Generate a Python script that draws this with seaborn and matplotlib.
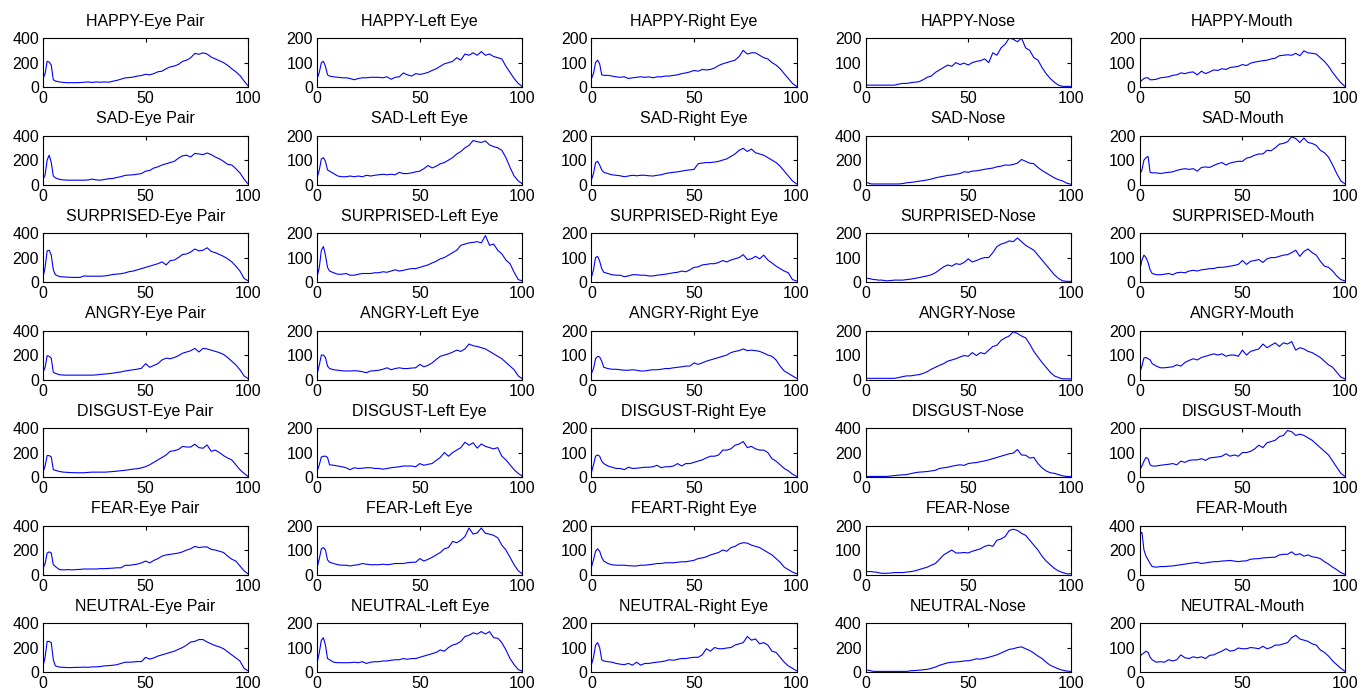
import matplotlib
matplotlib.use("Agg")
import matplotlib.pyplot as plt
import seaborn as sns

# histogram bins (normalised intensity 0-100)
bins = [0, 1, 2, 3, 4, 5, 6,
        8, 10, 12, 14, 16, 18, 20,
        22, 24, 26, 28, 30, 32, 34, 36, 38, 40,
        42, 44, 46, 48, 50, 52, 54, 56, 58, 60,
        62, 64, 66, 68, 70, 72, 74, 76, 78, 80,
        82, 84, 86, 88, 90, 92, 94, 96, 98, 100]

emotions = ["HAPPY", "SAD", "SURPRISED", "ANGRY", "DISGUST", "FEAR", "NEUTRAL"]
regions = ["Eye Pair", "Left Eye", "Right Eye", "Nose", "Mouth"]
title_fix = {("FEAR", "Right Eye"): "FEART-Right Eye"}  # as printed in the original

# --- HAPPY ---
happy_eye_pair = [70, 110, 210, 205, 180, 60, 50,
                  42, 38, 36, 36, 36, 37, 40,
                  42, 38, 42, 40, 42, 40, 48, 55, 65, 75,
                  78, 82, 90, 95, 105, 100, 110, 125, 130, 150,
                  165, 172, 185, 210, 220, 240, 275, 268, 280, 270,
                  245, 230, 215, 200, 178, 150, 125, 95, 50, 10]
happy_left_eye = [35, 60, 100, 105, 85, 50, 45,
                  42, 40, 38, 38, 35, 30, 35,
                  38, 38, 40, 40, 40, 38, 42, 32, 40, 42,
                  58, 50, 45, 55, 52, 55, 60, 68, 75, 85,
                  95, 100, 105, 120, 110, 135, 130, 140, 130, 145,
                  130, 135, 125, 120, 115, 85, 60, 35, 15, 2]
happy_right_eye = [35, 55, 100, 110, 95, 50, 48,
                   48, 45, 42, 40, 42, 35, 38,
                   40, 42, 40, 42, 38, 42, 42, 45, 45, 48,
                   50, 55, 58, 62, 68, 65, 72, 70, 72, 78,
                   88, 95, 100, 105, 110, 125, 150, 135, 140, 140,
                   130, 120, 115, 100, 90, 75, 55, 35, 15, 3]
happy_nose = [8, 8, 8, 8, 8, 8, 8,
              8, 8, 8, 8, 12, 15, 15,
              18, 20, 22, 30, 40, 45, 60, 70, 80, 90,
              85, 100, 92, 98, 90, 100, 105, 108, 115, 100,
              140, 130, 160, 175, 200, 195, 185, 200, 160, 150,
              120, 110, 80, 55, 35, 20, 8, 3, 3, 3]
happy_mouth = [20, 28, 35, 38, 38, 30, 30,
               32, 38, 40, 42, 48, 50, 58,
               55, 60, 62, 50, 65, 55, 62, 70, 68, 75,
               72, 80, 82, 85, 92, 88, 98, 102, 105, 108,
               110, 115, 118, 128, 130, 132, 130, 138, 128, 148,
               140, 138, 135, 120, 105, 85, 60, 38, 18, 3]

# --- SAD ---
sad_eye_pair = [40, 80, 200, 240, 180, 70, 55,
                42, 38, 36, 36, 36, 36, 36,
                38, 45, 38, 36, 42, 48, 50, 58, 65, 75,
                78, 80, 85, 90, 110, 115, 135, 145, 160, 170,
                180, 190, 215, 235, 240, 225, 255, 250, 245, 258,
                245, 225, 210, 190, 165, 160, 130, 95, 45, 5]
sad_left_eye = [30, 60, 105, 110, 95, 60, 55,
                45, 35, 32, 32, 35, 32, 35,
                32, 38, 35, 38, 40, 42, 40, 42, 40, 50,
                45, 45, 48, 52, 55, 65, 78, 68, 75, 85,
                90, 100, 110, 125, 135, 150, 160, 180, 175, 172,
                178, 162, 155, 150, 140, 110, 70, 35, 15, 3]
sad_right_eye = [20, 45, 90, 95, 80, 60, 50,
                 45, 40, 38, 36, 32, 35, 38,
                 36, 38, 38, 36, 35, 38, 40, 45, 48, 50,
                 52, 55, 58, 60, 62, 85, 88, 90, 90, 92,
                 95, 100, 105, 115, 125, 140, 148, 135, 145, 130,
                 125, 120, 110, 100, 90, 75, 55, 35, 15, 3]
sad_nose = [15, 15, 8, 5, 5, 5, 5,
            5, 5, 5, 5, 5, 8, 15,
            18, 22, 28, 32, 38, 45, 55, 62, 68, 75,
            78, 85, 90, 105, 100, 110, 112, 118, 125, 130,
            135, 145, 150, 160, 158, 165, 175, 205, 190, 175,
            170, 140, 115, 95, 75, 55, 40, 30, 12, 3]
sad_mouth = [40, 60, 100, 110, 115, 50, 48,
             48, 45, 48, 50, 52, 58, 62,
             65, 62, 65, 55, 70, 72, 70, 78, 85, 90,
             80, 88, 92, 95, 95, 108, 112, 120, 125, 125,
             140, 138, 150, 165, 168, 175, 195, 188, 172, 190,
             172, 168, 160, 140, 130, 112, 80, 45, 15, 3]

# --- SURPRISED ---
surprised_eye_pair = [40, 120, 255, 260, 220, 100, 60,
                      45, 42, 40, 38, 38, 38, 50,
                      48, 48, 48, 48, 50, 55, 62, 65, 68, 75,
                      85, 90, 100, 110, 120, 130, 140, 150, 165, 140,
                      175, 180, 200, 225, 230, 245, 270, 255, 260, 280,
                      250, 240, 225, 210, 190, 165, 130, 90, 30, 10]
surprised_left_eye = [25, 60, 130, 145, 110, 60, 45,
                      38, 32, 32, 35, 28, 28, 32,
                      35, 35, 35, 38, 38, 42, 40, 45, 50, 45,
                      48, 52, 55, 55, 60, 65, 70, 78, 85, 95,
                      100, 110, 120, 130, 150, 155, 160, 162, 165, 160,
                      190, 150, 155, 130, 115, 90, 75, 40, 10, 5]
surprised_right_eye = [20, 50, 100, 105, 85, 55, 40,
                       35, 30, 28, 28, 22, 25, 30,
                       30, 28, 28, 25, 25, 28, 30, 32, 35, 38,
                       40, 45, 42, 50, 60, 62, 70, 72, 75, 75,
                       80, 88, 82, 90, 95, 100, 112, 92, 95, 105,
                       95, 110, 90, 78, 65, 55, 45, 38, 10, 5]
surprised_nose = [15, 15, 14, 12, 10, 10, 8,
                  8, 5, 6, 8, 8, 8, 10,
                  12, 15, 18, 22, 25, 30, 38, 50, 62, 70,
                  65, 75, 72, 80, 95, 82, 88, 95, 100, 100,
                  120, 145, 155, 160, 168, 165, 180, 165, 150, 140,
                  130, 110, 90, 70, 50, 30, 15, 5, 3, 3]
surprised_mouth = [50, 90, 110, 100, 80, 50, 35,
                   30, 30, 32, 35, 30, 38, 40,
                   38, 45, 48, 45, 50, 52, 55, 55, 60, 60,
                   62, 65, 68, 72, 88, 72, 85, 88, 92, 80,
                   95, 100, 100, 105, 110, 112, 120, 130, 105, 125,
                   135, 120, 110, 85, 65, 60, 45, 25, 10, 5]

# --- ANGRY ---
angry_eye_pair = [60, 100, 195, 190, 175, 60, 50,
                  40, 36, 36, 36, 36, 36, 36,
                  36, 36, 38, 42, 45, 48, 52, 58, 62, 70,
                  75, 80, 85, 92, 130, 100, 115, 130, 160, 175,
                  170, 180, 195, 215, 225, 235, 255, 225, 255, 250,
                  240, 230, 220, 205, 180, 150, 120, 80, 30, 8]
angry_left_eye = [25, 60, 100, 100, 90, 55, 45,
                  40, 38, 36, 35, 35, 36, 35,
                  32, 28, 35, 36, 38, 42, 48, 40, 45, 48,
                  45, 45, 47, 48, 62, 52, 58, 68, 82, 95,
                  100, 105, 112, 120, 115, 125, 145, 138, 135, 130,
                  125, 115, 105, 95, 85, 70, 55, 40, 15, 3]
angry_right_eye = [25, 45, 85, 95, 92, 75, 50,
                   45, 42, 42, 40, 38, 38, 40,
                   38, 35, 35, 38, 40, 40, 42, 45, 45, 48,
                   50, 52, 55, 55, 68, 62, 68, 75, 80, 85,
                   90, 95, 100, 110, 115, 118, 125, 118, 120, 118,
                   115, 108, 100, 95, 80, 55, 35, 25, 15, 5]
angry_nose = [5, 5, 5, 5, 5, 5, 5,
              5, 5, 5, 5, 8, 12, 15,
              15, 18, 20, 25, 32, 42, 50, 58, 65, 75,
              80, 85, 92, 98, 95, 110, 98, 110, 105, 120,
              135, 140, 160, 170, 178, 195, 188, 178, 170, 145,
              115, 92, 70, 50, 30, 15, 8, 3, 3, 3]
angry_mouth = [30, 55, 88, 90, 85, 80, 65,
               55, 48, 48, 50, 52, 60, 55,
               70, 78, 85, 80, 90, 95, 100, 105, 100, 105,
               95, 100, 100, 95, 120, 100, 115, 120, 125, 145,
               130, 140, 150, 135, 150, 145, 155, 120, 130, 125,
               115, 110, 100, 90, 75, 60, 50, 30, 10, 3]

# --- DISGUST ---
disgust_eye_pair = [40, 90, 175, 175, 165, 60, 55,
                    45, 40, 38, 36, 35, 35, 35,
                    38, 40, 40, 40, 40, 42, 45, 48, 52, 55,
                    60, 65, 68, 75, 85, 100, 120, 140, 160, 180,
                    210, 215, 225, 250, 245, 245, 268, 240, 235, 262,
                    210, 220, 200, 175, 155, 140, 100, 60, 30, 5]
disgust_left_eye = [25, 50, 82, 85, 85, 80, 50,
                    48, 45, 42, 38, 30, 38, 35,
                    36, 38, 38, 35, 35, 32, 35, 38, 40, 42,
                    45, 45, 45, 42, 55, 48, 52, 55, 68, 80,
                    100, 85, 100, 110, 120, 142, 130, 140, 118, 135,
                    125, 120, 115, 120, 85, 70, 50, 30, 15, 3]
disgust_right_eye = [20, 50, 85, 90, 85, 65, 55,
                     45, 40, 35, 35, 30, 40, 35,
                     36, 38, 40, 40, 42, 48, 38, 42, 42, 45,
                     55, 45, 55, 55, 60, 65, 70, 78, 85, 85,
                     90, 110, 110, 115, 130, 135, 145, 120, 125, 115,
                     110, 110, 100, 75, 65, 50, 35, 25, 12, 3]
disgust_nose = [5, 5, 5, 5, 5, 5, 5,
                5, 5, 8, 12, 15, 18, 20,
                28, 35, 40, 42, 45, 50, 55, 70, 75, 80,
                88, 95, 100, 95, 110, 115, 118, 125, 132, 140,
                150, 160, 170, 180, 190, 195, 225, 180, 178, 155,
                160, 110, 75, 50, 35, 30, 20, 10, 5, 3]
disgust_mouth = [30, 45, 65, 80, 75, 50, 45,
                 45, 48, 50, 52, 55, 50, 65,
                 60, 68, 70, 70, 75, 68, 78, 80, 82, 85,
                 95, 85, 90, 85, 100, 100, 105, 115, 130, 120,
                 140, 145, 150, 165, 170, 190, 185, 170, 175, 170,
                 160, 150, 135, 120, 105, 90, 65, 40, 15, 3]

# --- FEAR ---
fear_eye_pair = [50, 90, 175, 185, 175, 80, 65,
                 40, 38, 40, 38, 40, 42, 45,
                 45, 45, 45, 48, 48, 50, 52, 55, 55, 75,
                 75, 80, 85, 95, 110, 95, 115, 130, 150, 160,
                 165, 170, 175, 185, 200, 210, 230, 220, 225, 225,
                 205, 200, 190, 180, 150, 125, 110, 70, 30, 5]
fear_left_eye = [30, 65, 105, 110, 100, 60, 50,
                 45, 40, 38, 38, 35, 38, 40,
                 45, 42, 40, 40, 40, 42, 40, 42, 45, 45,
                 45, 48, 50, 50, 65, 55, 62, 70, 80, 90,
                 105, 110, 135, 130, 140, 155, 190, 165, 170, 190,
                 168, 165, 160, 150, 120, 100, 70, 40, 15, 3]
fear_right_eye = [30, 60, 95, 105, 95, 70, 55,
                  45, 40, 38, 38, 38, 36, 35,
                  35, 38, 38, 40, 42, 45, 45, 48, 48, 48,
                  50, 52, 52, 55, 58, 65, 68, 72, 80, 85,
                  90, 100, 95, 110, 115, 125, 130, 128, 120, 115,
                  110, 100, 90, 80, 65, 50, 30, 20, 10, 3]
fear_nose = [12, 12, 12, 12, 10, 10, 8,
             5, 5, 6, 8, 8, 8, 10,
             12, 15, 20, 25, 30, 38, 45, 62, 80, 90,
             100, 88, 88, 90, 88, 95, 100, 105, 115, 120,
             115, 140, 145, 155, 180, 185, 180, 168, 160, 140,
             120, 100, 75, 55, 40, 25, 15, 8, 3, 3]
fear_mouth = [330, 345, 200, 150, 120, 90, 65,
              60, 65, 65, 68, 70, 75, 80,
              85, 90, 95, 100, 90, 95, 100, 105, 105, 110,
              112, 115, 110, 105, 110, 112, 125, 128, 130, 135,
              138, 140, 142, 160, 165, 165, 185, 160, 170, 150,
              160, 145, 140, 130, 105, 85, 60, 40, 15, 3]

# --- NEUTRAL ---
neutral_eye_pair = [50, 120, 250, 250, 240, 100, 50,
                    40, 38, 36, 36, 38, 38, 40,
                    38, 42, 42, 45, 50, 52, 55, 60, 70, 80,
                    80, 82, 85, 85, 120, 105, 115, 130, 140, 150,
                    160, 170, 185, 200, 220, 245, 250, 265, 265, 245,
                    230, 215, 205, 190, 165, 140, 115, 90, 30, 10]
neutral_left_eye = [40, 80, 130, 140, 110, 55, 50,
                    40, 38, 38, 38, 38, 40, 38,
                    42, 35, 40, 42, 42, 45, 45, 48, 50, 50,
                    55, 52, 55, 55, 60, 65, 70, 75, 80, 90,
                    85, 100, 110, 115, 125, 145, 150, 160, 155, 165,
                    155, 165, 140, 138, 120, 90, 55, 30, 10, 3]
neutral_right_eye = [30, 60, 110, 120, 100, 50, 45,
                     42, 40, 35, 32, 30, 35, 28,
                     40, 28, 35, 35, 38, 40, 42, 45, 50, 48,
                     52, 55, 55, 58, 60, 60, 70, 95, 85, 100,
                     95, 95, 98, 100, 110, 115, 120, 145, 130, 135,
                     115, 120, 110, 85, 80, 60, 40, 25, 15, 5]
neutral_nose = [15, 15, 12, 8, 5, 5, 5,
                5, 5, 5, 5, 5, 5, 5,
                10, 12, 15, 18, 22, 30, 40, 55, 65, 75,
                80, 82, 85, 90, 92, 98, 108, 105, 112, 120,
                130, 140, 155, 170, 185, 190, 200, 205, 190, 175,
                155, 130, 110, 80, 55, 40, 25, 15, 8, 5]
neutral_mouth = [65, 72, 78, 85, 80, 60, 50,
                 40, 42, 40, 50, 45, 50, 70,
                 58, 55, 62, 58, 62, 55, 68, 70, 78, 85,
                 95, 85, 88, 98, 95, 95, 100, 98, 95, 105,
                 95, 100, 110, 110, 115, 120, 140, 150, 135, 130,
                 125, 115, 110, 90, 80, 65, 45, 30, 15, 3]

grid = [
    [happy_eye_pair, happy_left_eye, happy_right_eye, happy_nose, happy_mouth],
    [sad_eye_pair, sad_left_eye, sad_right_eye, sad_nose, sad_mouth],
    [surprised_eye_pair, surprised_left_eye, surprised_right_eye, surprised_nose, surprised_mouth],
    [angry_eye_pair, angry_left_eye, angry_right_eye, angry_nose, angry_mouth],
    [disgust_eye_pair, disgust_left_eye, disgust_right_eye, disgust_nose, disgust_mouth],
    [fear_eye_pair, fear_left_eye, fear_right_eye, fear_nose, fear_mouth],
    [neutral_eye_pair, neutral_left_eye, neutral_right_eye, neutral_nose, neutral_mouth],
]

sns.set_theme(style="white", rc={
    "axes.edgecolor": "black",
    "axes.linewidth": 0.8,
    "text.color": "black",
    "xtick.color": "black",
    "ytick.color": "black",
    "xtick.direction": "in",
    "ytick.direction": "in",
})
plt.rcParams["font.family"] = ["Liberation Sans", "DejaVu Sans"]

fig, axes = plt.subplots(7, 5, figsize=(13.71, 6.93), dpi=100)
fig.subplots_adjust(left=0.0314, right=0.981, top=0.945, bottom=0.0303,
                    wspace=0.337, hspace=0.99)

for i, emo in enumerate(emotions):
    for j, reg in enumerate(regions):
        ax = axes[i, j]
        vals = grid[i][j]
        assert len(vals) == len(bins)
        sns.lineplot(x=bins, y=vals, ax=ax, color="#0000FF", linewidth=0.8)
        top = 200 if max(vals) <= 200 else 400
        ax.set_xlim(0, 100)
        ax.set_ylim(0, top)
        ax.set_xticks([0, 50, 100])
        ax.set_yticks([0, top / 2, top])
        ax.set_yticklabels(["0", str(top // 2), str(top)])
        ax.tick_params(direction="in", top=True, right=True, length=3,
                       width=0.8, labelsize=11.5, pad=3, colors="black")
        ax.set_title(title_fix.get((emo, reg), f"{emo}-{reg}"),
                     fontsize=11.5, pad=9, color="black")
        for s in ax.spines.values():
            s.set_visible(True)
            s.set_color("black")

fig.savefig("out.png", dpi=100)
